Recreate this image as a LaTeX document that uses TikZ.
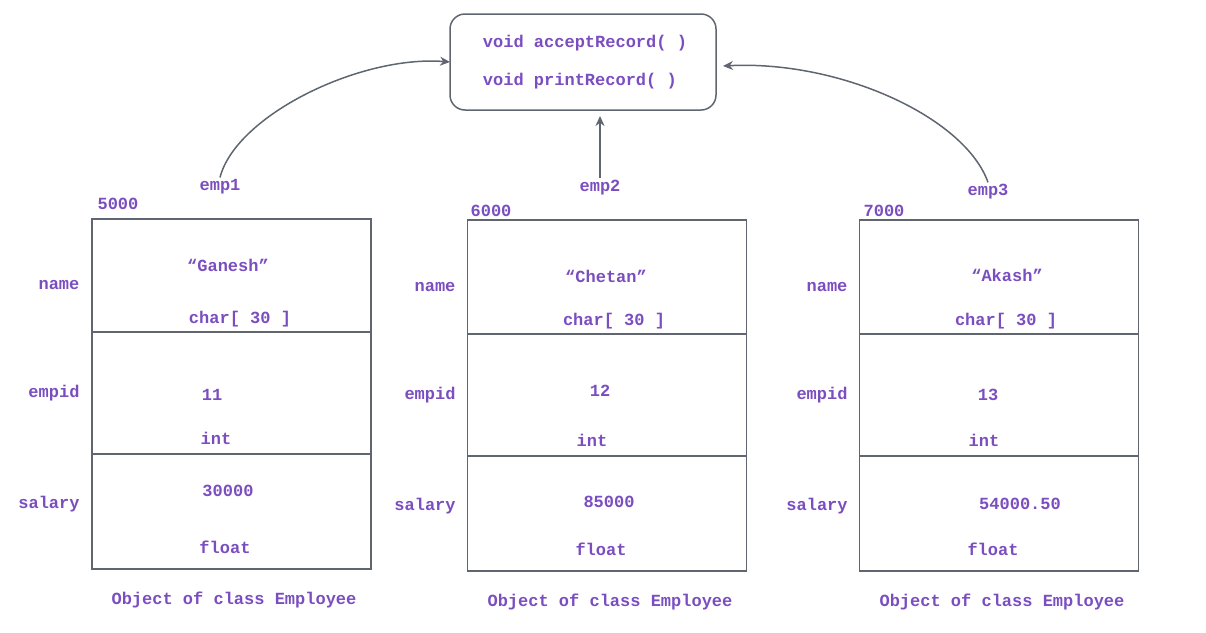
\documentclass[tikz,border=0pt]{standalone}
\usepackage{fontspec}
\setmonofont{Liberation Mono}
\usetikzlibrary{positioning,arrows.meta}
\definecolor{txtpurple}{RGB}{123,78,192}
\definecolor{linegray}{RGB}{95,102,112}
\newcommand\codefont{\fontsize{17}{20}\selectfont\ttfamily\bfseries}
\begin{document}
\begin{tikzpicture}
[x=1pt,y=-1pt,
 every node/.style={text=txtpurple,font=\codefont,inner sep=2pt},
 cell/.style={draw=linegray,line width=1.5pt,minimum width=279pt,inner sep=0pt,outer sep=0pt},
 link/.style={draw=linegray,line width=1.5pt,-{Stealth[length=10pt,width=9pt]}}]
\useasboundingbox (0,0) rectangle (1206,632);

% class methods
\node[draw=linegray,line width=1.5pt,rounded corners=15pt,minimum width=266pt,
      minimum height=96pt,align=left,outer sep=0pt,
      font=\fontsize{17}{38}\selectfont\ttfamily\bfseries] (methods) at (583,62)
      {\hspace*{4pt}void acceptRecord( )\\\hspace*{4pt}void printRecord( )};

% emp1
\node[cell,minimum height=113pt] (name1) at (231.5,275.5) {};
\node[cell,minimum height=122pt,below=0pt of name1] (empid1) {};
\node[cell,minimum height=115pt,below=0pt of empid1] (salary1) {};
\node (addr1) at (118,204) {5000};
\node (emp1) at (220,187) {emp1};
\node (namelbl1) at (59,285) {name};
\node (nameval1) at (228,265) {“Ganesh”};
\node (nametype1) at (240,319) {char[ 30 ]};
\node (idlbl1) at (54,393) {empid};
\node (idval1) at (212,395) {11};
\node (idtype1) at (216,438) {int};
\node (sallbl1) at (49,504) {salary};
\node (salval1) at (228,491) {30000};
\node (saltype1) at (225,547) {float};
\node (caption1) at (234,600) {Object of class Employee};

% emp2
\node[cell,minimum height=114pt] (name2) at (607,277) {};
\node[cell,minimum height=122pt,below=0pt of name2] (empid2) {};
\node[cell,minimum height=115pt,below=0pt of empid2] (salary2) {};
\node (addr2) at (491,211) {6000};
\node (emp2) at (600,188) {emp2};
\node (namelbl2) at (435,287) {name};
\node (nameval2) at (606,276) {“Chetan”};
\node (nametype2) at (614,321) {char[ 30 ]};
\node (idlbl2) at (430,395) {empid};
\node (idval2) at (600,391) {12};
\node (idtype2) at (592,440) {int};
\node (sallbl2) at (425,506) {salary};
\node (salval2) at (609,502) {85000};
\node (saltype2) at (601,549) {float};
\node (caption2) at (610,602) {Object of class Employee};

% emp3
\node[cell,minimum height=114pt] (name3) at (999,277) {};
\node[cell,minimum height=122pt,below=0pt of name3] (empid3) {};
\node[cell,minimum height=115pt,below=0pt of empid3] (salary3) {};
\node (addr3) at (884,211) {7000};
\node (emp3) at (988,192) {emp3};
\node (namelbl3) at (827,287) {name};
\node (nameval3) at (1007,275) {“Akash”};
\node (nametype3) at (1006,321) {char[ 30 ]};
\node (idlbl3) at (822,395) {empid};
\node (idval3) at (988,395) {13};
\node (idtype3) at (984,440) {int};
\node (sallbl3) at (817,506) {salary};
\node (salval3) at (1020,504) {54000.50};
\node (saltype3) at (993,549) {float};
\node (caption3) at (1002,602) {Object of class Employee};

% references to the shared methods
\draw[link] (emp1.north) .. controls +(16,-62) and +(-90,-7) .. (methods.west);
\draw[link] (emp2.north) -- ([yshift=-6pt]emp2.north |- methods.south);
\draw[link] (emp3.north) .. controls +(-23,-65) and +(117,-6) .. ([shift={(7,4)}]methods.east);
\end{tikzpicture}
\end{document}
